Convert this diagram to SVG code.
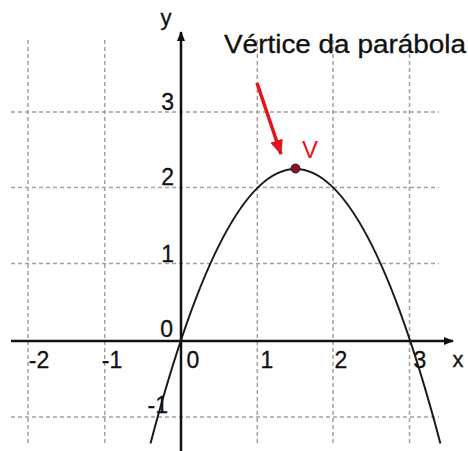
<svg xmlns="http://www.w3.org/2000/svg" width="468" height="451" viewBox="0 0 468 451">
<style>
.grid{stroke:#a0a0a0;stroke-width:1.5;stroke-dasharray:4 3;fill:none}
.axis{stroke:#111;stroke-width:2.5;fill:none}
.lbl{font-family:"Liberation Sans",Arial,sans-serif;font-size:23px;fill:#111;stroke:#111;stroke-width:0.3}
.red{fill:#e3121b}
</style>
<defs>
<marker id="ah" markerWidth="10" markerHeight="10" refX="9" refY="5" orient="auto" markerUnits="userSpaceOnUse">
<path d="M0,1 L10,5 L0,9 Z" fill="#111"/>
</marker>
<marker id="rh" markerWidth="15" markerHeight="15" refX="14" refY="7.5" orient="auto" markerUnits="userSpaceOnUse">
<path d="M0,1 L15,7.5 L0,14 Z" fill="#e3121b"/>
</marker>
</defs>
<rect width="468" height="451" fill="#fff"/>
<g id="grid">
<line class="grid" x1="28" y1="40" x2="28" y2="445"/>
<line class="grid" x1="104.7" y1="40" x2="104.7" y2="445"/>
<line class="grid" x1="257.3" y1="40" x2="257.3" y2="445"/>
<line class="grid" x1="333" y1="40" x2="333" y2="445"/>
<line class="grid" x1="409.5" y1="40" x2="409.5" y2="445"/>
<line class="grid" x1="11" y1="112" x2="439" y2="112"/>
<line class="grid" x1="11" y1="187.5" x2="439" y2="187.5"/>
<line class="grid" x1="11" y1="263.5" x2="439" y2="263.5"/>
<line class="grid" x1="11" y1="417" x2="439" y2="417"/>
</g>
<g id="axes">
<line class="axis" x1="11" y1="341" x2="453" y2="341" marker-end="url(#ah)"/>
<line class="axis" x1="181" y1="451" x2="181" y2="32" marker-end="url(#ah)"/>
</g>
<g id="parabola">
<path d="M150.5,443.4 Q295.5,-105.4 440.4,443.4" fill="none" stroke="#1a1a1a" stroke-width="2"/>
</g>
<g id="labels" class="lbl">
<text x="166" y="25" text-anchor="middle" font-size="22">y</text>
<text x="458" y="367" text-anchor="middle" font-size="22">x</text>
<text x="39" y="368" text-anchor="middle">-2</text>
<text x="112" y="368" text-anchor="middle">-1</text>
<text x="193" y="368" text-anchor="middle">0</text>
<text x="267" y="368" text-anchor="middle">1</text>
<text x="341" y="368" text-anchor="middle">2</text>
<text x="420" y="368" text-anchor="middle">3</text>
<text x="173" y="337" text-anchor="end">0</text>
<text x="174" y="262" text-anchor="end">1</text>
<text x="174" y="185" text-anchor="end">2</text>
<text x="174" y="110" text-anchor="end">3</text>
<text x="168" y="413" text-anchor="end">-1</text>
</g>
<g id="vertex">
<line x1="257" y1="83" x2="281" y2="154" stroke="#e3121b" stroke-width="3.5" marker-end="url(#rh)"/>
<circle cx="295.5" cy="168.5" r="4.5" fill="#8a1424" stroke="#222" stroke-width="1"/>
<text x="310" y="158" text-anchor="middle" font-family="Liberation Sans,Arial,sans-serif" font-size="24" class="red">V</text>
<text x="224" y="53" font-family="Liberation Sans,Arial,sans-serif" font-size="25" fill="#111" stroke="#111" stroke-width="0.3" textLength="242" lengthAdjust="spacingAndGlyphs">Vértice da parábola</text>
</g>
</svg>
